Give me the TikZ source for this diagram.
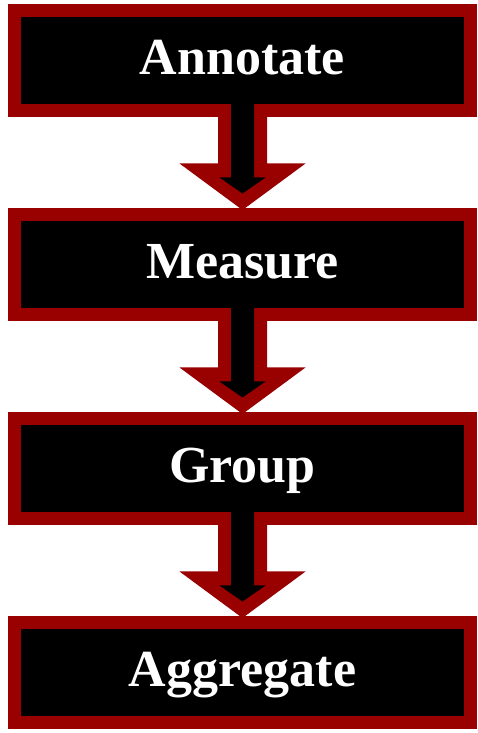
\documentclass[tikz,border=0pt]{standalone}
\usepackage{fontspec}
\setmainfont{Liberation Serif}
\usetikzlibrary{calc}
\definecolor{dred}{HTML}{990000}
\begin{document}
\begin{tikzpicture}[x=1pt,y=1pt,
  stagebox/.style={draw=dred, fill=black, line width=13pt, minimum width=456pt,
    minimum height=100pt, inner sep=0pt, outer sep=0pt, text=white,
    text height=35pt, text depth=7pt,
    font=\fontsize{52}{60}\selectfont\bfseries}]
\useasboundingbox (0,0) rectangle (478,733);
\node[stagebox] (a) at (242.5,672) {Annotate};
\node[stagebox] (b) at (242.5,468) {Measure};
\node[stagebox] (c) at (242.5,264) {Group};
\node[stagebox] (d) at (242.5,60) {Aggregate};
\foreach \s/\t in {a/b,b/c,c/d}{
  \fill[dred] let \p1=(\s.south), \p2=(\t.north) in
    (\x1-24.5pt,\y1+6pt) -- (\x1-24.5pt,\y1-52.5pt) -- (\x1-63pt,\y1-52.5pt)
    -- (\x1,\y2+5pt) -- (\x1+63pt,\y1-52.5pt) -- (\x1+24.5pt,\y1-52.5pt)
    -- (\x1+24.5pt,\y1+6pt) -- cycle;
  \fill[black] let \p1=(\s.south) in
    (\x1-11.5pt,\y1+8pt) -- (\x1-11.5pt,\y1-66.5pt) -- (\x1-23pt,\y1-66.5pt)
    -- (\x1,\y1-82.5pt) -- (\x1+23pt,\y1-66.5pt) -- (\x1+11.5pt,\y1-66.5pt)
    -- (\x1+11.5pt,\y1+8pt) -- cycle;
}
\end{tikzpicture}
\end{document}
